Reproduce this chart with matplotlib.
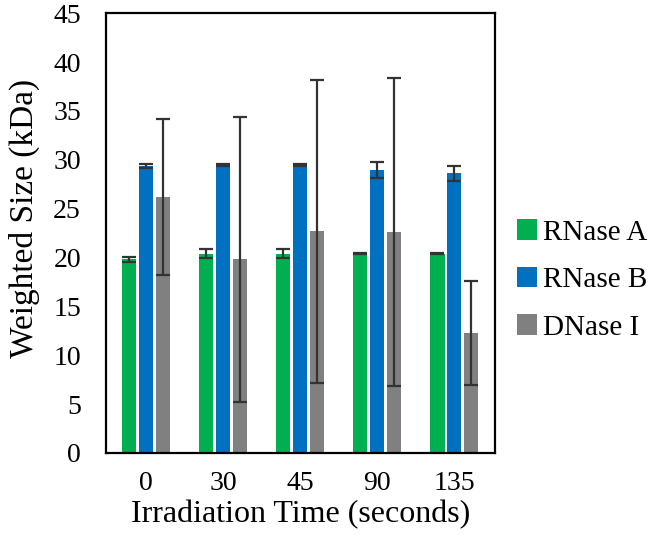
import numpy as np
import matplotlib.pyplot as plt

# irradiation times and weighted sizes (kDa)
times = ["0", "30", "45", "90", "135"]
rnase_a = [19.8, 20.4, 20.4, 20.4, 20.4]
rnase_a_err = [0.3, 0.5, 0.5, 0.05, 0.05]
rnase_b = [29.4, 29.5, 29.5, 28.95, 28.6]
rnase_b_err = [0.2, 0.1, 0.1, 0.85, 0.75]
dnase = [26.2, 19.8, 22.7, 22.6, 12.3]
dnase_err = [8.0, 14.6, 15.5, 15.8, 5.3]

plt.rcParams["font.family"] = ["Liberation Serif", "DejaVu Serif"]

fig = plt.figure(figsize=(6.5, 5.51), dpi=100)
ax = fig.add_axes([0.163, 0.178, 0.5985, 0.798])

x = np.arange(len(times))
w = 0.19
off = 0.22
err_style = dict(ecolor="#333333", elinewidth=1.6, capsize=5, capthick=1.6)

ax.bar(x - off, rnase_a, w, yerr=rnase_a_err, color="#00B050", label="RNase A",
       error_kw=err_style)
ax.bar(x, rnase_b, w, yerr=rnase_b_err, color="#0070C0", label="RNase B",
       error_kw=err_style)
ax.bar(x + off, dnase, w, yerr=dnase_err, color="#808080", label="DNase I",
       error_kw=err_style)

ax.set_xlim(-0.52, 4.53)
ax.set_ylim(0, 45)
ax.set_yticks(range(0, 46, 5))
ax.set_xticks(x)
ax.set_xticklabels(times)
ax.tick_params(length=0, labelsize=20)
ax.tick_params(axis="y", pad=18)
ax.tick_params(axis="x", pad=13)
for s in ax.spines.values():
    s.set_linewidth(1.6)

ax.set_xlabel("Irradiation Time (seconds)", fontsize=23, labelpad=3)
ax.set_ylabel("Weighted Size (kDa)", fontsize=24)
ax.yaxis.set_label_coords(-0.17, 0.534)

fig.legend(loc="center left", bbox_to_anchor=(0.795, 0.492), frameon=False,
           fontsize=21, handlelength=0.7, handleheight=0.7, handletextpad=0.2,
           labelspacing=0.72, borderpad=0, borderaxespad=0)

fig.savefig("out.png", dpi=100)
